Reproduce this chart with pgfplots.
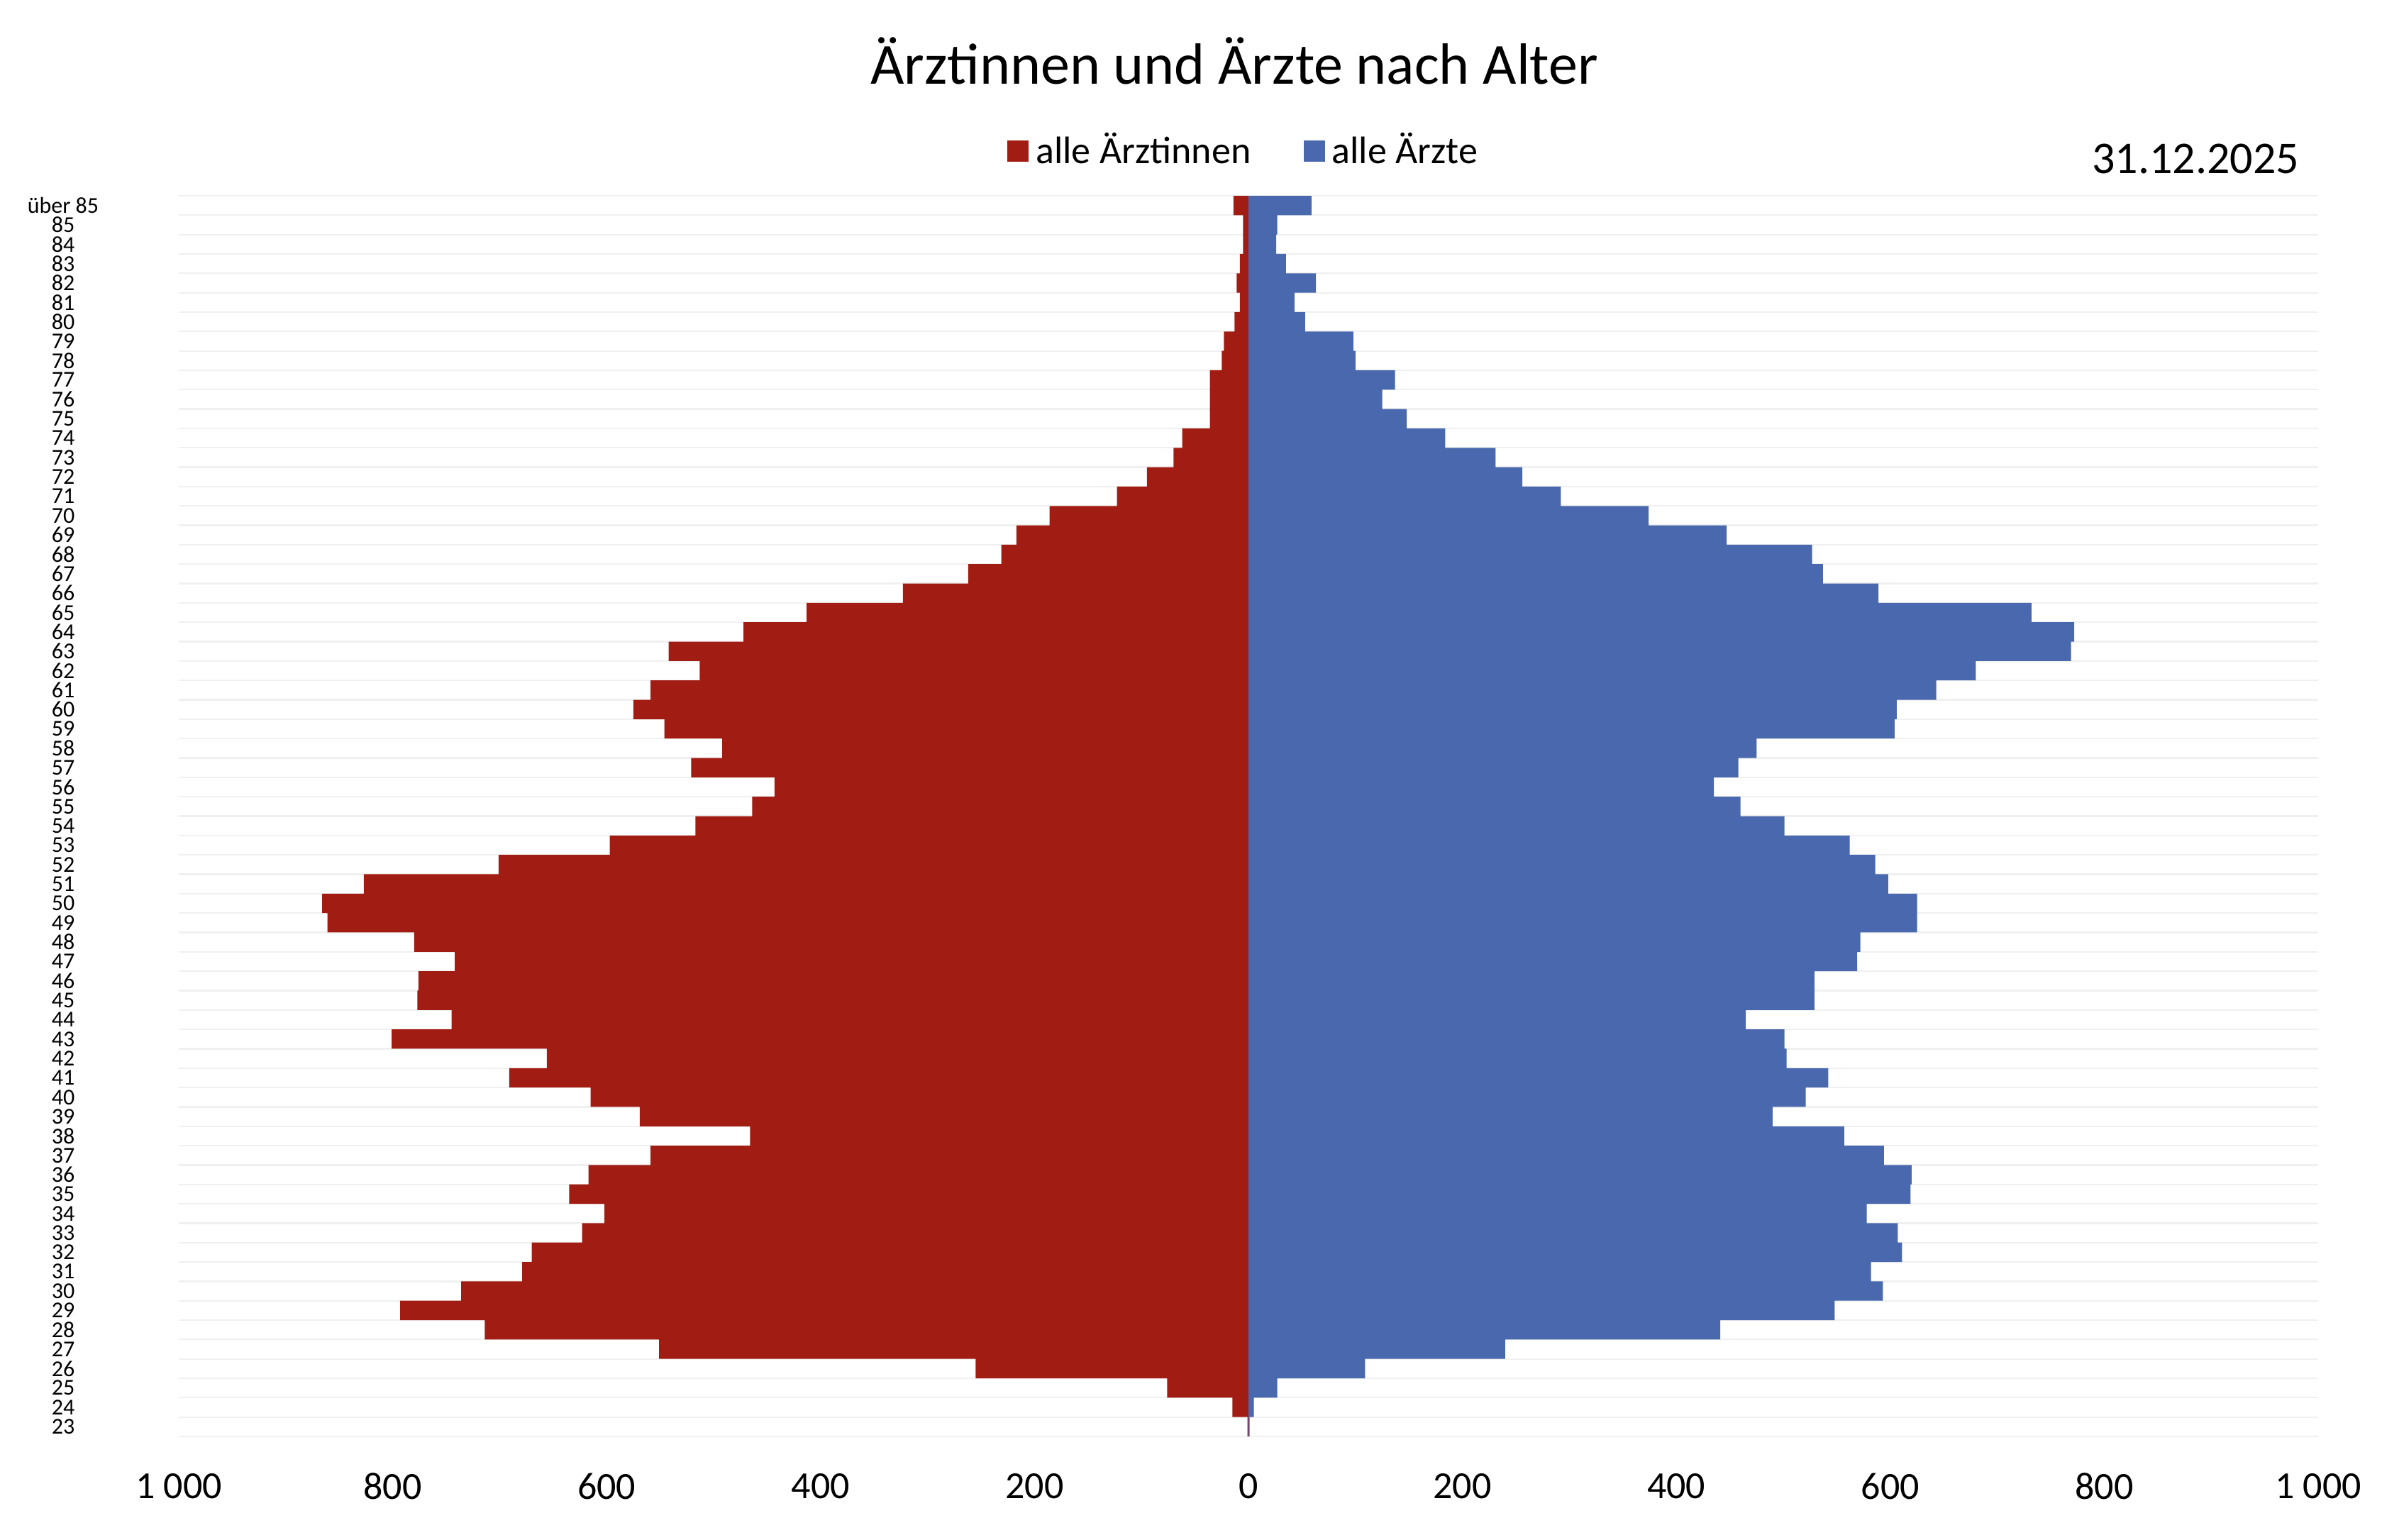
\documentclass[border=0pt]{standalone}
\usepackage{fontspec}
\setmainfont{Carlito}
\usepackage{pgfplots}
\pgfplotsset{compat=1.18}
\definecolor{femred}{RGB}{161,29,20}
\definecolor{malblue}{RGB}{74,104,173}
\definecolor{gridc}{RGB}{240,240,240}
\begin{document}
\begin{tikzpicture}
\path[use as bounding box] (0,0) rectangle (671.6pt,434pt);
\begin{axis}[
  at={(50.4pt,29pt)}, anchor=south west,
  scale only axis, width=603.2pt, height=349.8pt,
  xmin=-1000, xmax=1000, ymin=-0.5, ymax=63.5,
  xtick={-1000,-800,...,1000},
  xticklabels={1 000,800,600,400,200,0,200,400,600,800,1 000},
  ytick={0,1,...,63},
  yticklabels={23,24,25,26,27,28,29,30,31,32,33,34,35,36,37,38,39,40,41,42,43,44,45,46,47,48,49,50,51,52,53,54,55,56,57,58,59,60,61,62,63,64,65,66,67,68,69,70,71,72,73,74,75,76,77,78,79,80,81,82,83,84,85,über 85},
  minor ytick={-0.5,0.5,...,63.5},
  yminorgrids=true,
  minor grid style={draw=gridc, line width=0.45pt},
  axis line style={draw=none},
  major tick length=0pt, minor tick length=0pt,
  xticklabel style={font=\fontsize{10.8}{13}\selectfont, anchor=center, yshift=-14pt},
  yticklabel style={font=\fontsize{6.4}{7}\selectfont, anchor=center, xshift=-32.6pt},
  legend style={at={(0.4989,1.036)}, anchor=center, draw=none, fill=none,
    legend columns=2, font=\fontsize{10.8}{13}\selectfont, inner sep=0pt,
    /tikz/every even column/.append style={column sep=12.8pt}},
  legend cell align=left,
  legend image code/.code={\fill[#1] (0pt,-3pt) rectangle (6pt,3pt);},
]
\addplot[xbar, bar shift=0pt, bar width=1, fill=femred, draw=none] coordinates {
(-1,0) (-15,1) (-76,2) (-255,3) (-551,4) (-714,5) (-793,6) (-736,7) (-679,8) (-670,9)
(-623,10) (-602,11) (-635,12) (-617,13) (-559,14) (-466,15) (-569,16) (-615,17) (-691,18) (-656,19)
(-801,20) (-745,21) (-777,22) (-776,23) (-742,24) (-780,25) (-861,26) (-866,27) (-827,28) (-701,29)
(-597,30) (-517,31) (-464,32) (-443,33) (-521,34) (-492,35) (-546,36) (-575,37) (-559,38) (-513,39)
(-542,40) (-472,41) (-413,42) (-323,43) (-262,44) (-231,45) (-217,46) (-186,47) (-123,48) (-95,49)
(-70,50) (-62,51) (-36,52) (-36,53) (-36,54) (-25,55) (-23,56) (-13,57) (-8,58) (-11,59)
(-8,60) (-5,61) (-5,62) (-14,63)};
\addlegendentry{alle Ärztinnen}
\addplot[xbar, bar shift=0pt, bar width=1, fill=malblue, draw=none] coordinates {
(1,0) (5,1) (27,2) (109,3) (240,4) (441,5) (548,6) (593,7) (582,8) (611,9)
(607,10) (578,11) (619,12) (620,13) (594,14) (557,15) (490,16) (521,17) (542,18) (503,19)
(501,20) (465,21) (529,22) (529,23) (569,24) (572,25) (625,26) (625,27) (598,28) (586,29)
(562,30) (501,31) (460,32) (435,33) (458,34) (475,35) (604,36) (606,37) (643,38) (680,39)
(769,40) (772,41) (732,42) (589,43) (537,44) (527,45) (447,46) (374,47) (292,48) (256,49)
(231,50) (184,51) (148,52) (125,53) (137,54) (100,55) (98,56) (53,57) (43,58) (63,59)
(35,60) (26,61) (27,62) (59,63)};
\addlegendentry{alle Ärzte}
\end{axis}
\node[anchor=base, font=\fontsize{16.4}{19}\selectfont] at (348pt,410.2pt) {Ärztinnen und Ärzte nach Alter};
\node[anchor=base east, inner sep=0pt, font=\fontsize{12.8}{15}\selectfont] at (648.4pt,385pt) {31.12.2025};
\end{tikzpicture}
\end{document}
